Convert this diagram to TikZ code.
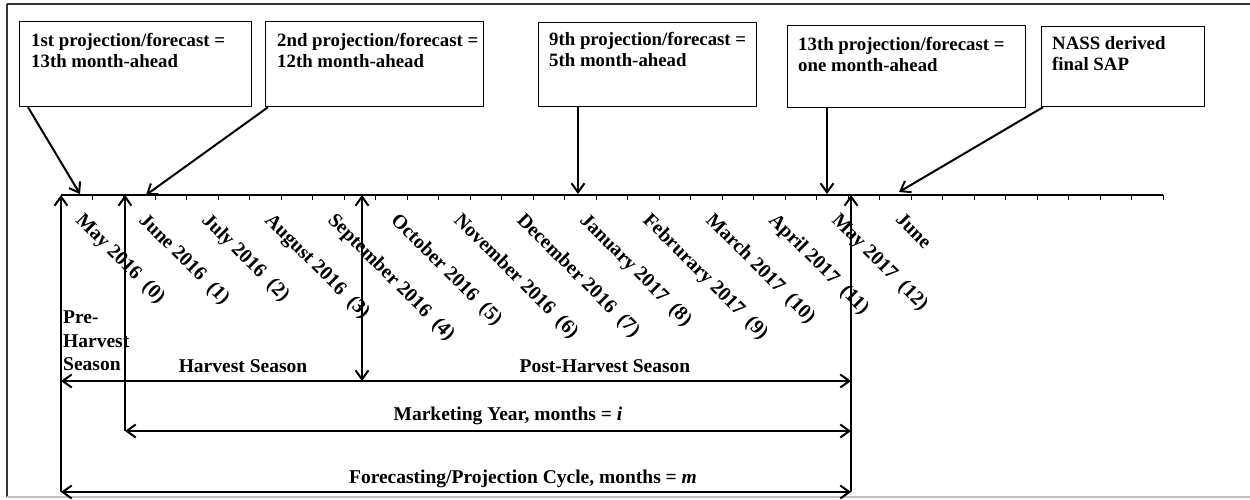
\documentclass[tikz,border=0pt]{standalone}
\usepackage{fontspec}
\setmainfont{Liberation Serif}
\usetikzlibrary{arrows.meta}
\tikzset{
  projbox/.style={draw,line width=1.2pt,anchor=north west,inner sep=0pt},
  boxtext/.style={anchor=north west,align=left,inner sep=0pt,font=\fontsize{18.8}{21}\selectfont\bfseries},
  monthlab/.style={anchor=north west,rotate=-45,inner sep=0pt,font=\fontsize{20}{20}\selectfont\bfseries},
  seasontext/.style={inner sep=0pt,font=\fontsize{19.5}{23.5}\selectfont\bfseries},
  arw/.style={line width=2pt,-{Straight Barb[length=9pt,width=13pt]}},
  darw/.style={line width=2pt,{Straight Barb[length=9pt,width=13pt]}-{Straight Barb[length=9pt,width=13pt]}}
}
\begin{document}
\begin{tikzpicture}[x=1pt,y=-1pt,line join=round]
\useasboundingbox (0,0) rectangle (1250,499);
\draw[black!80,line width=2.2pt] (7,4) -- (1250,4);
\draw[black!80,line width=1.5pt] (7,4) -- (7,497);
\draw[black!25,line width=1.5pt] (7,497) -- (1250,497);
\node[projbox,minimum width=232,minimum height=85] (p1) at (19,21) {};
\node[projbox,minimum width=218,minimum height=85] (p2) at (265,21) {};
\node[projbox,minimum width=218,minimum height=84] (p9) at (538,22) {};
\node[projbox,minimum width=238,minimum height=82] (p13) at (787,25) {};
\node[projbox,minimum width=163,minimum height=80] (nass) at (1041,26) {};
\node[boxtext] (p1t) at (31,33) {1st projection/forecast =\\13th month-ahead};
\node[boxtext] (p2t) at (277,33) {2nd projection/forecast =\\12th month-ahead};
\node[boxtext] (p9t) at (549,32) {9th projection/forecast =\\5th month-ahead};
\node[boxtext] (p13t) at (798,37) {13th projection/forecast =\\one month-ahead};
\node[boxtext] (nasst) at (1052,36) {NASS derived\\final SAP};
\coordinate (t0) at (61,195);
\coordinate (t35) at (1163,195);
\draw[line width=1.3pt] (t0) -- (t35);
\foreach \k in {0,...,35} \draw[line width=1pt] (61+\k*31.486,195) -- ++(0,5);
\foreach \lab [count=\k from 0] in {May 2016\ \ (0),June 2016\ \ (1),July 2016\ \ (2),August 2016\ \ (3),September 2016\ \ (4),October 2016\ \ (5),November 2016\ \ (6),December 2016\ \ (7),January 2017\ \ (8),Februrary 2017\ \ (9),March 2017\ \ (10),April 2017\ \ (11),May 2017\ \ (12),June}
  \node[monthlab] (m\k) at (85+63*\k,211) {\lab};
\coordinate (f1) at (80,194);
\coordinate (f2) at (146,195);
\coordinate (f9) at (578,194);
\coordinate (f13) at (827,194);
\coordinate (fn) at (899,192);
\draw[arw] ([xshift=9]p1.south west) -- (f1);
\draw[arw] ([xshift=3]p2.south west) -- (f2);
\draw[arw] (f9 |- p9.south) -- (f9);
\draw[arw] (f13 |- p13.south) -- (f13);
\draw[arw] ([xshift=2]nass.south west) -- (fn);
\coordinate (mayA) at (61,195);
\coordinate (mayB) at (61,492);
\coordinate (junA) at (125,195);
\coordinate (junB) at (125,431);
\coordinate (sepA) at (362,195);
\coordinate (sepB) at (362,381);
\coordinate (nextA) at (851,195);
\coordinate (nextB) at (851,492);
\draw[arw] (mayB) -- (mayA);
\draw[arw] (junB) -- (junA);
\draw[darw] (sepB) -- (sepA);
\draw[arw] (nextB) -- (nextA);
\draw[darw] (mayA |- sepB) -- (nextA |- sepB);
\draw[darw] (junB) -- (nextA |- junB);
\draw[darw] (mayB) -- (nextB);
\node[seasontext,anchor=north west,align=left] (pre) at (63,311) {Pre-\\Harvest\\Season};
\node[seasontext,anchor=base] (harv) at (243,372) {Harvest Season};
\node[seasontext,anchor=base] (post) at (605,372) {Post-Harvest Season};
\node[seasontext,anchor=base] (mkt) at (508,420) {Marketing Year, months = \textit{i}};
\node[seasontext,anchor=base] (cyc) at (523,483) {Forecasting/Projection Cycle, months = \textit{m}};
\end{tikzpicture}
\end{document}
